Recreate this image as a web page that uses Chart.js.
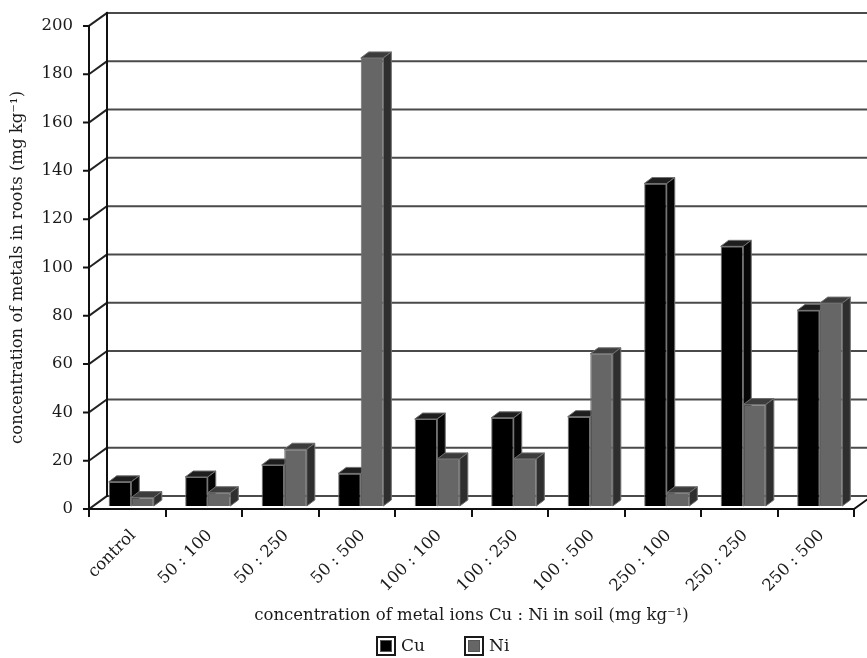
<!DOCTYPE html>
<html>
<head>
<meta charset="utf-8">
<script src="https://cdn.jsdelivr.net/npm/chart.js@4.4.1/dist/chart.umd.min.js"></script>
<style>
  html, body { margin: 0; padding: 0; background: #fff; }
  #wrap { width: 867px; height: 658px; }
</style>
</head>
<body>
<div id="wrap"><canvas id="rootsChart" width="867" height="658"></canvas></div>
<script>
// dane
const categories = ['control', '50 : 100', '50 : 250', '50 : 500', '100 : 100', '100 : 250', '100 : 500', '250 : 100', '250 : 250', '250 : 500'];
const cuValues = [10, 12, 17, 13.5, 36, 36.5, 37, 133.5, 107.5, 81];
const niValues = [3.5, 5.5, 23.5, 185.5, 19.5, 19.5, 63, 5.5, 42, 84];
const yTicks = [0, 20, 40, 60, 80, 100, 120, 140, 160, 180, 200];
const seriesNames = ['Cu', 'Ni'];

const FONT = "'DejaVu Serif', serif";
const FONT_SIZE = 16.5;
const WALL = { dx: 18, dy: -13 };               // glebokosc tylnej sciany
const BAR = { sx: 4, sy: -3, dx: 8, dy: -6 };   // przesuniecie i glebokosc slupkow
const FACES = [
    { front: '#000000', top: '#1e1e1e', side: '#060606' },
    { front: '#666666', top: '#3c3c3c', side: '#2e2e2e' }
];
const EDGE = '#707070';

// sciana, podloga i osie w pseudo-3D
const frame3d = {
    id: 'frame3d',
    beforeDatasetsDraw(chart) {
        const { ctx, chartArea: a, scales: { x, y } } = chart;
        ctx.save();
        ctx.lineCap = 'square';

        // linie siatki na tylnej scianie
        ctx.strokeStyle = '#4a4a4a';
        ctx.lineWidth = 2;
        yTicks.forEach(v => {
            const py = y.getPixelForValue(v);
            ctx.beginPath();
            ctx.moveTo(a.left + WALL.dx, py + WALL.dy);
            ctx.lineTo(chart.width, py + WALL.dy);
            ctx.stroke();
        });

        // skosy od osi do sciany
        ctx.strokeStyle = '#222';
        yTicks.forEach(v => {
            const py = y.getPixelForValue(v);
            ctx.beginPath();
            ctx.moveTo(a.left, py);
            ctx.lineTo(a.left + WALL.dx, py + WALL.dy);
            ctx.stroke();
        });

        const y0 = y.getPixelForValue(yTicks[0]);
        const yTop = y.getPixelForValue(yTicks[yTicks.length - 1]);

        // krawedz tylnej sciany
        ctx.strokeStyle = '#111';
        ctx.beginPath();
        ctx.moveTo(a.left + WALL.dx, yTop + WALL.dy);
        ctx.lineTo(a.left + WALL.dx, y0 + WALL.dy);
        ctx.stroke();

        // os Y z przodu + znaczniki
        ctx.beginPath();
        ctx.moveTo(a.left, yTop);
        ctx.lineTo(a.left, y0);
        yTicks.forEach(v => {
            const py = y.getPixelForValue(v);
            ctx.moveTo(a.left - 5, py);
            ctx.lineTo(a.left, py);
        });
        ctx.stroke();

        // podloga: przednia krawedz, prawy skos, znaczniki kategorii
        ctx.beginPath();
        ctx.moveTo(a.left, y0);
        ctx.lineTo(a.right, y0);
        ctx.lineTo(a.right + WALL.dx, y0 + WALL.dy);
        const step = (x.right - x.left) / categories.length;
        for (let i = 0; i <= categories.length; i++) {
            const px = Math.round(x.left + i * step);
            ctx.moveTo(px, y0);
            ctx.lineTo(px, y0 + 7);
        }
        ctx.stroke();
        ctx.restore();
    },

    // slupki rysujemy sami, kategoria po kategorii (Cu przed Ni)
    beforeDatasetDraw() {
        return false;
    },

    afterDatasetsDraw(chart) {
        const ctx = chart.ctx;
        const metas = chart.data.datasets.map((d, i) => chart.getDatasetMeta(i));
        categories.forEach((c, k) => {
            metas.forEach((meta, i) => {
                const bar = meta.data[k];
                if (!bar) return;
                const f = FACES[i];
                ctx.save();
                ctx.translate(BAR.sx, BAR.sy);
                bar.draw(ctx, chart.chartArea);
                ctx.restore();

                const { x, y, base, width } = bar.getProps(['x', 'y', 'base', 'width'], true);
                const L = x - width / 2 + BAR.sx, R = x + width / 2 + BAR.sx;
                const T = y + BAR.sy, B = base + BAR.sy;
                ctx.save();
                ctx.lineWidth = 1;
                ctx.strokeStyle = EDGE;
                // gora
                ctx.beginPath();
                ctx.moveTo(L, T);
                ctx.lineTo(L + BAR.dx, T + BAR.dy);
                ctx.lineTo(R + BAR.dx, T + BAR.dy);
                ctx.lineTo(R, T);
                ctx.closePath();
                ctx.fillStyle = f.top;
                ctx.fill();
                ctx.stroke();
                // bok
                ctx.beginPath();
                ctx.moveTo(R, T);
                ctx.lineTo(R + BAR.dx, T + BAR.dy);
                ctx.lineTo(R + BAR.dx, B + BAR.dy);
                ctx.lineTo(R, B);
                ctx.closePath();
                ctx.fillStyle = f.side;
                ctx.fill();
                ctx.stroke();
                ctx.restore();
            });
        });
    },

    // legenda z podwojna ramka
    afterDraw(chart) {
        const ctx = chart.ctx;
        ctx.save();
        ctx.font = '17px ' + FONT;
        ctx.textBaseline = 'middle';
        ctx.textAlign = 'left';
        const top = 636, size = 20;
        let px = 376;
        chart.data.datasets.forEach((ds, i) => {
            ctx.fillStyle = '#ffffff';
            ctx.fillRect(px, top, size, size);
            ctx.strokeStyle = '#1a1a1a';
            ctx.lineWidth = 2;
            ctx.strokeRect(px + 1, top + 1, size - 2, size - 2);
            ctx.fillStyle = FACES[i].front;
            ctx.fillRect(px + 4, top + 4, size - 8, size - 8);
            ctx.strokeStyle = '#555';
            ctx.lineWidth = 1;
            ctx.strokeRect(px + 4.5, top + 4.5, size - 9, size - 9);
            ctx.fillStyle = '#1a1a1a';
            ctx.fillText(ds.label, px + size + 5, top + size / 2 + 1);
            px += 88;
        });
        ctx.restore();
    }
};

const ctx = document.getElementById('rootsChart');
new Chart(ctx, {
    type: 'bar',
    data: {
        labels: categories,
        datasets: [
            { label: seriesNames[0], data: cuValues, backgroundColor: FACES[0].front, borderColor: EDGE, borderWidth: 1 },
            { label: seriesNames[1], data: niValues, backgroundColor: FACES[1].front, borderColor: EDGE, borderWidth: 1 }
        ]
    },
    options: {
        responsive: false,
        animation: false,
        events: [],
        layout: { padding: { top: 21, right: 13, bottom: 0, left: 0 } },
        datasets: { bar: { categoryPercentage: 0.59, barPercentage: 1.0 } },
        plugins: {
            legend: { display: false },
            tooltip: { enabled: false }
        },
        scales: {
            x: {
                grid: { display: false, drawTicks: false },
                border: { display: false },
                ticks: {
                    color: '#1a1a1a',
                    font: { family: FONT, size: FONT_SIZE },
                    maxRotation: 45,
                    minRotation: 45,
                    padding: 17,
                    labelOffset: 6,
                    autoSkip: false
                },
                title: {
                    display: true,
                    text: 'concentration of metal ions Cu : Ni in soil (mg kg⁻¹)',
                    color: '#1a1a1a',
                    font: { family: FONT, size: FONT_SIZE },
                    padding: { top: 0, bottom: 32 }
                },
                afterFit(scale) { scale.height = 149; }
            },
            y: {
                min: 0,
                max: 200,
                grid: { display: false, drawTicks: false },
                border: { display: false },
                afterBuildTicks(scale) { scale.ticks = yTicks.map(v => ({ value: v })); },
                ticks: {
                    color: '#1a1a1a',
                    font: { family: FONT, size: FONT_SIZE },
                    padding: 16
                },
                title: {
                    display: true,
                    text: 'concentration of metals in roots (mg kg⁻¹)',
                    color: '#1a1a1a',
                    font: { family: FONT, size: FONT_SIZE },
                    padding: { top: 8, bottom: 0 }
                },
                afterFit(scale) { scale.width = 89; }
            }
        }
    },
    plugins: [frame3d]
});
</script>
</body>
</html>
